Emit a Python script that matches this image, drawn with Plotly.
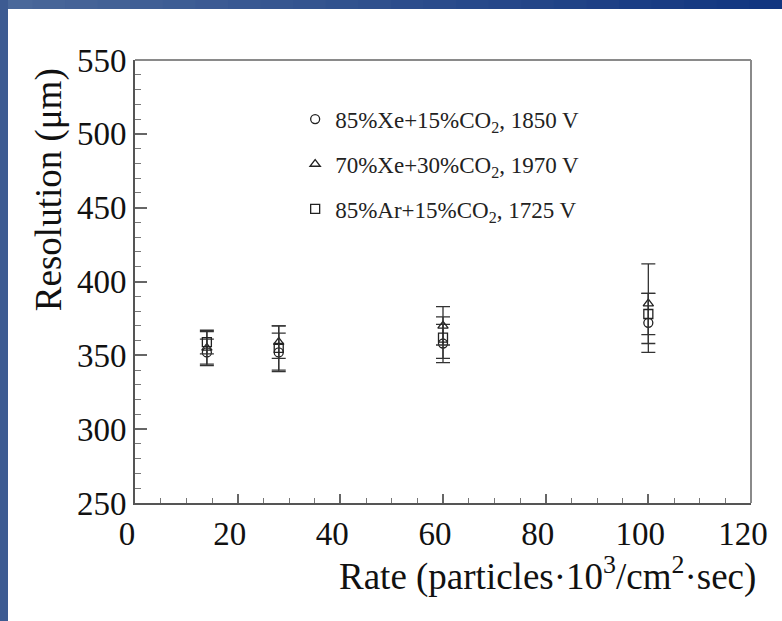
import plotly.graph_objects as go

rates = [14, 28, 60, 100]

xe85_res = [352, 352, 358, 372]
xe85_err = [9, 13, 13, 20]

xe70_res = [355, 359, 370, 385]
xe70_err = [11, 11, 13, 27]

ar85_res = [359, 355, 362, 378]
ar85_err = [8, 15, 14, 14]

labels = [
    "85%Xe+15%CO<sub>2</sub>, 1850 V",
    "70%Xe+30%CO<sub>2</sub>, 1970 V",
    "85%Ar+15%CO<sub>2</sub>, 1725 V",
]
symbols = ["circle-open", "triangle-up-open", "square-open"]
series = [(xe85_res, xe85_err), (xe70_res, xe70_err), (ar85_res, ar85_err)]

x_title = "Rate (particles·10<sup>3</sup>/cm<sup>2</sup>·sec)"
y_title = "Resolution (μm)"

SERIF = "Liberation Serif"

fig = go.Figure()
for i, ((res, err), lab, sym) in enumerate(zip(series, labels, symbols)):
    fig.add_trace(go.Scatter(
        x=rates, y=res, mode="markers", name=lab, legendgroup=f"g{i}",
        marker=dict(symbol=sym, size=9, color="#222", line=dict(width=1.3, color="#222")),
        error_y=dict(type="data", array=err, visible=True, color="#333", thickness=1.3, width=7),
    ))

shapes = []
# decorative blue gradient frame (top strip and left strip)
n = 24
x0p, x1p = -135 / 616, (782 - 135) / 616
for k in range(n):
    t = k / (n - 1)
    r = int(0x4a + (0x12 - 0x4a) * t)
    g = int(0x68 + (0x36 - 0x68) * t)
    b = int(0x9a + (0x80 - 0x9a) * t)
    shapes.append(dict(type="rect", xref="paper", yref="paper", layer="above",
                       x0=x0p + (x1p - x0p) * k / n, x1=x0p + (x1p - x0p) * (k + 1) / n + 0.002,
                       y0=(503 - 9) / 443, y1=503 / 443 + 0.01,
                       fillcolor=f"rgb({r},{g},{b})", line=dict(width=0)))
shapes.append(dict(type="rect", xref="paper", yref="paper", layer="above",
                   x0=x0p - 0.01, x1=(8 - 135) / 616, y0=(503 - 621) / 443 - 0.01, y1=503 / 443 + 0.01,
                   fillcolor="#3d5b92", line=dict(width=0)))
# top and right frame lines
shapes.append(dict(type="line", xref="paper", yref="paper", x0=0, x1=1, y0=1, y1=1,
                   line=dict(color="#8a8a8a", width=2)))
shapes.append(dict(type="line", xref="paper", yref="paper", x0=1, x1=1, y0=0, y1=1,
                   line=dict(color="#8a8a8a", width=2)))

annotations = [
    dict(text=x_title, xref="paper", yref="paper", x=1.012, y=(503 - 574) / 443,
         xanchor="right", yanchor="middle", showarrow=False,
         font=dict(family=SERIF, size=37, color="#111")),
    dict(text=y_title, xref="paper", yref="paper", x=(49 - 135) / 616, y=0.985,
         xanchor="center", yanchor="top", textangle=-90, showarrow=False,
         font=dict(family=SERIF, size=37, color="#111")),
]

fig.update_layout(
    width=782, height=621,
    margin=dict(l=135, r=31, t=60, b=118),
    paper_bgcolor="white", plot_bgcolor="white",
    font=dict(family=SERIF, color="#111"),
    showlegend=True,
    legend=dict(x=0.26, y=0.915, xanchor="left", yanchor="top",
                font=dict(family=SERIF, size=23, color="#222"),
                bgcolor="rgba(0,0,0,0)", tracegroupgap=12, itemwidth=30),
    shapes=shapes,
    annotations=annotations,
    xaxis=dict(
        range=[0, 120], tickvals=[0, 20, 40, 60, 80, 100, 120],
        showgrid=False, zeroline=False, showline=True, linecolor="#555", linewidth=2,
        ticks="inside", ticklen=9, tickcolor="#666", tickwidth=1.5,
        minor=dict(dtick=5, ticks="inside", ticklen=5, tickcolor="#777", tickwidth=1.2),
        tickfont=dict(family=SERIF, size=33, color="#111"),
        ticklabelshift=-8,
    ),
    yaxis=dict(
        range=[250, 550], tickvals=[250, 300, 350, 400, 450, 500, 550],
        showgrid=False, zeroline=False, showline=True, linecolor="#555", linewidth=2,
        ticks="inside", ticklen=12, tickcolor="#666", tickwidth=1.5,
        minor=dict(dtick=10, ticks="inside", ticklen=6, tickcolor="#777", tickwidth=1.2),
        tickfont=dict(family=SERIF, size=33, color="#111"),
    ),
)

fig.write_html("out.html")
